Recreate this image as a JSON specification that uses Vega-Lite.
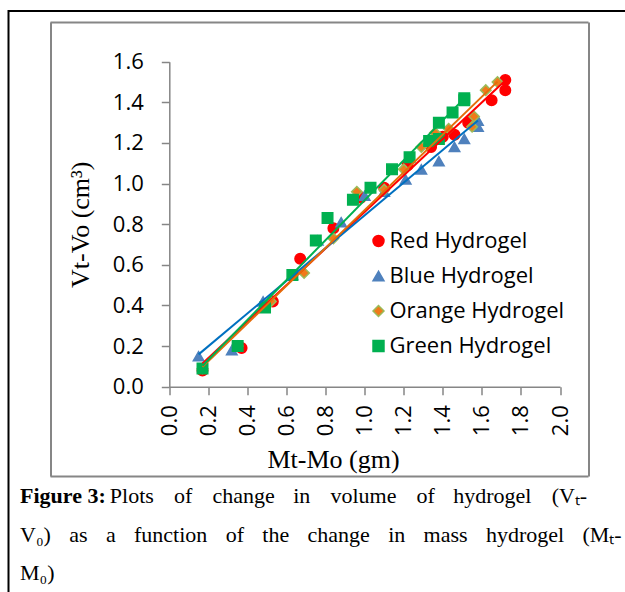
{
  "$schema": "https://vega.github.io/schema/vega-lite/v6.json",
  "width": 620,
  "height": 585,
  "autosize": {"type": "none"},
  "padding": {"left": 8.5, "top": 11, "right": 0, "bottom": 0},
  "background": "white",
  "config": {
    "view": {"stroke": "#000000", "strokeWidth": 2},
    "legend": {
      "orient": "none",
      "legendX": 359,
      "legendY": 219,
      "labelFont": "Open Sans",
      "labelFontSize": 22,
      "labelColor": "#000000",
      "labelLimit": 400,
      "symbolSize": 120,
      "symbolStrokeWidth": 1.5,
      "labelOffset": 0,
      "rowPadding": 13,
      "padding": 0
    }
  },
  "title": {
    "text": "Figure 3:",
    "subtitle": [
      "\u200b\u2003\u2003\u2003\u2003\u200aPlots\u2002\u2004\u200aof\u2002\u2004\u200achange\u2002\u2004in\u2002\u2004\u200avolume\u2002\u2004\u200aof\u2002\u2004hydrogel\u2002\u2004\u200a(V\u209c-",
      "V\u2080)\u2002\u2004as\u2002\u2004a\u2002\u2004function\u2002\u2004of\u2002\u2004the\u2002\u2004change\u2002\u2004in\u2002\u2004mass\u2002\u2004hydrogel\u2002\u2004(M\u209c-",
      "M\u2080)"
    ],
    "orient": "bottom",
    "anchor": "start",
    "frame": "group",
    "offset": -110,
    "dx": 11.5,
    "font": "Liberation Serif",
    "fontSize": 22,
    "fontWeight": "bold",
    "color": "#000000",
    "subtitleFont": "Liberation Serif",
    "subtitleFontSize": 22,
    "subtitleFontWeight": "normal",
    "subtitleColor": "#000000",
    "subtitlePadding": -22,
    "subtitleLineHeight": 38.5
  },
  "data": {
    "values": [
      {"series": "Red Hydrogel", "dm": 0.17, "dv": 0.08},
      {"series": "Red Hydrogel", "dm": 0.37, "dv": 0.19},
      {"series": "Red Hydrogel", "dm": 0.53, "dv": 0.42},
      {"series": "Red Hydrogel", "dm": 0.67, "dv": 0.63},
      {"series": "Red Hydrogel", "dm": 0.84, "dv": 0.78},
      {"series": "Red Hydrogel", "dm": 0.98, "dv": 0.93},
      {"series": "Red Hydrogel", "dm": 1.10, "dv": 0.98},
      {"series": "Red Hydrogel", "dm": 1.22, "dv": 1.09},
      {"series": "Red Hydrogel", "dm": 1.34, "dv": 1.18},
      {"series": "Red Hydrogel", "dm": 1.40, "dv": 1.23},
      {"series": "Red Hydrogel", "dm": 1.46, "dv": 1.24},
      {"series": "Red Hydrogel", "dm": 1.53, "dv": 1.30},
      {"series": "Red Hydrogel", "dm": 1.65, "dv": 1.41},
      {"series": "Red Hydrogel", "dm": 1.72, "dv": 1.46},
      {"series": "Red Hydrogel", "dm": 1.72, "dv": 1.51},
      {"series": "Blue Hydrogel", "dm": 0.15, "dv": 0.15},
      {"series": "Blue Hydrogel", "dm": 0.32, "dv": 0.18},
      {"series": "Blue Hydrogel", "dm": 0.48, "dv": 0.42},
      {"series": "Blue Hydrogel", "dm": 0.63, "dv": 0.55},
      {"series": "Blue Hydrogel", "dm": 0.76, "dv": 0.72},
      {"series": "Blue Hydrogel", "dm": 0.88, "dv": 0.81},
      {"series": "Blue Hydrogel", "dm": 1.00, "dv": 0.94},
      {"series": "Blue Hydrogel", "dm": 1.10, "dv": 0.96},
      {"series": "Blue Hydrogel", "dm": 1.21, "dv": 1.02},
      {"series": "Blue Hydrogel", "dm": 1.29, "dv": 1.07},
      {"series": "Blue Hydrogel", "dm": 1.38, "dv": 1.11},
      {"series": "Blue Hydrogel", "dm": 1.46, "dv": 1.18},
      {"series": "Blue Hydrogel", "dm": 1.51, "dv": 1.22},
      {"series": "Blue Hydrogel", "dm": 1.58, "dv": 1.28},
      {"series": "Blue Hydrogel", "dm": 1.58, "dv": 1.31},
      {"series": "Orange Hydrogel", "dm": 0.17, "dv": 0.09},
      {"series": "Orange Hydrogel", "dm": 0.35, "dv": 0.20},
      {"series": "Orange Hydrogel", "dm": 0.52, "dv": 0.42},
      {"series": "Orange Hydrogel", "dm": 0.69, "dv": 0.56},
      {"series": "Orange Hydrogel", "dm": 0.84, "dv": 0.73},
      {"series": "Orange Hydrogel", "dm": 0.96, "dv": 0.96},
      {"series": "Orange Hydrogel", "dm": 1.10, "dv": 0.97},
      {"series": "Orange Hydrogel", "dm": 1.20, "dv": 1.07},
      {"series": "Orange Hydrogel", "dm": 1.29, "dv": 1.18},
      {"series": "Orange Hydrogel", "dm": 1.36, "dv": 1.25},
      {"series": "Orange Hydrogel", "dm": 1.43, "dv": 1.27},
      {"series": "Orange Hydrogel", "dm": 1.55, "dv": 1.28},
      {"series": "Orange Hydrogel", "dm": 1.56, "dv": 1.33},
      {"series": "Orange Hydrogel", "dm": 1.62, "dv": 1.46},
      {"series": "Orange Hydrogel", "dm": 1.68, "dv": 1.50},
      {"series": "Green Hydrogel", "dm": 0.17, "dv": 0.09},
      {"series": "Green Hydrogel", "dm": 0.35, "dv": 0.20},
      {"series": "Green Hydrogel", "dm": 0.49, "dv": 0.39},
      {"series": "Green Hydrogel", "dm": 0.63, "dv": 0.55},
      {"series": "Green Hydrogel", "dm": 0.75, "dv": 0.72},
      {"series": "Green Hydrogel", "dm": 0.81, "dv": 0.83},
      {"series": "Green Hydrogel", "dm": 0.94, "dv": 0.92},
      {"series": "Green Hydrogel", "dm": 1.03, "dv": 0.98},
      {"series": "Green Hydrogel", "dm": 1.14, "dv": 1.07},
      {"series": "Green Hydrogel", "dm": 1.23, "dv": 1.13},
      {"series": "Green Hydrogel", "dm": 1.33, "dv": 1.21},
      {"series": "Green Hydrogel", "dm": 1.38, "dv": 1.22},
      {"series": "Green Hydrogel", "dm": 1.38, "dv": 1.30},
      {"series": "Green Hydrogel", "dm": 1.45, "dv": 1.35},
      {"series": "Green Hydrogel", "dm": 1.51, "dv": 1.41},
      {"series": "Green Hydrogel", "dm": 1.51, "dv": 1.42}
    ]
  },
  "layer": [
    {
      "mark": {"type": "point", "filled": true, "size": 110, "strokeWidth": 1.5, "opacity": 1},
      "encoding": {
        "x": {
          "field": "dm",
          "type": "quantitative",
          "scale": {"domain": [0, 2], "range": [160.8, 551.5], "nice": false, "zero": false},
          "axis": {
            "orient": "bottom",
            "offset": -209.3,
            "values": [0, 0.2, 0.4, 0.6, 0.8, 1.0, 1.2, 1.4, 1.6, 1.8, 2.0],
            "format": ".1f",
            "grid": false,
            "labelAngle": 270,
            "labelFlush": false,
            "labelOverlap": false,
            "labelFont": "Open Sans",
            "labelFontSize": 22,
            "labelColor": "#000000",
            "labelPadding": 10,
            "tickSize": 8,
            "tickColor": "#868686",
            "tickWidth": 1.5,
            "domainColor": "#868686",
            "domainWidth": 1.5,
            "title": "Mt-Mo (gm)",
            "titleFont": "Liberation Serif",
            "titleFontSize": 26,
            "titleFontWeight": "normal",
            "titleColor": "#000000",
            "titleX": 324.5,
            "titleY": 81,
            "titleBaseline": "alphabetic"
          }
        },
        "y": {
          "field": "dv",
          "type": "quantitative",
          "scale": {"domain": [0, 1.6], "range": [375.7, 50.7], "nice": false, "zero": false},
          "axis": {
            "orient": "left",
            "offset": -160.8,
            "values": [0, 0.2, 0.4, 0.6, 0.8, 1.0, 1.2, 1.4, 1.6],
            "format": ".1f",
            "grid": false,
            "labelFlush": false,
            "labelOverlap": false,
            "labelFont": "Open Sans",
            "labelFontSize": 22,
            "labelColor": "#000000",
            "labelPadding": 18,
            "tickSize": 8,
            "tickColor": "#868686",
            "tickWidth": 1.5,
            "domainColor": "#868686",
            "domainWidth": 1.5,
            "title": "Vt-Vo (cm³)",
            "titleFont": "Liberation Serif",
            "titleFontSize": 26,
            "titleFontWeight": "normal",
            "titleColor": "#000000",
            "titleX": -81,
            "titleBaseline": "alphabetic"
          }
        },
        "color": {
          "field": "series",
          "type": "nominal",
          "scale": {
            "domain": ["Red Hydrogel", "Blue Hydrogel", "Orange Hydrogel", "Green Hydrogel"],
            "range": ["#FF0000", "#4F81BD", "#F07A1A", "#00B050"]
          },
          "legend": {"title": null}
        },
        "stroke": {
          "field": "series",
          "type": "nominal",
          "scale": {
            "domain": ["Red Hydrogel", "Blue Hydrogel", "Orange Hydrogel", "Green Hydrogel"],
            "range": ["#FF0000", "#4F81BD", "#9BBB59", "#00B050"]
          },
          "legend": {"title": null}
        },
        "shape": {
          "field": "series",
          "type": "nominal",
          "scale": {
            "domain": ["Red Hydrogel", "Blue Hydrogel", "Orange Hydrogel", "Green Hydrogel"],
            "range": ["circle", "triangle-up", "diamond", "square"]
          },
          "legend": {"title": null}
        }
      }
    },
    {
      "transform": [{"regression": "dv", "on": "dm", "groupby": ["series"]}],
      "mark": {"type": "line", "strokeWidth": 2},
      "encoding": {
        "x": {
          "field": "dm",
          "type": "quantitative",
          "scale": {"domain": [-0.6107, 2.1433], "range": [41.5, 579.5], "nice": false, "zero": false},
          "axis": {
            "orient": "top",
            "values": [-0.6107, 2.1433],
            "grid": true,
            "gridColor": "#868686",
            "gridWidth": 2,
            "gridOpacity": 1,
            "domain": false,
            "ticks": false,
            "labels": false,
            "title": null
          }
        },
        "y": {
          "field": "dv",
          "type": "quantitative",
          "scale": {"domain": [-0.4396, 1.7954], "range": [465, 11], "nice": false, "zero": false},
          "axis": {
            "orient": "left",
            "values": [-0.4396, 1.7954],
            "grid": true,
            "gridColor": "#868686",
            "gridWidth": 2,
            "gridOpacity": 1,
            "domain": false,
            "ticks": false,
            "labels": false,
            "title": null
          }
        },
        "stroke": {
          "field": "series",
          "type": "nominal",
          "scale": {
            "domain": ["Red Hydrogel", "Blue Hydrogel", "Orange Hydrogel", "Green Hydrogel"],
            "range": ["#FF0000", "#0070C0", "#E46C0A", "#00B050"]
          },
          "legend": null
        }
      }
    }
  ],
  "resolve": {
    "scale": {"x": "independent", "y": "independent", "color": "independent", "stroke": "independent", "shape": "independent"},
    "legend": {"color": "independent", "stroke": "independent", "shape": "independent"}
  }
}
